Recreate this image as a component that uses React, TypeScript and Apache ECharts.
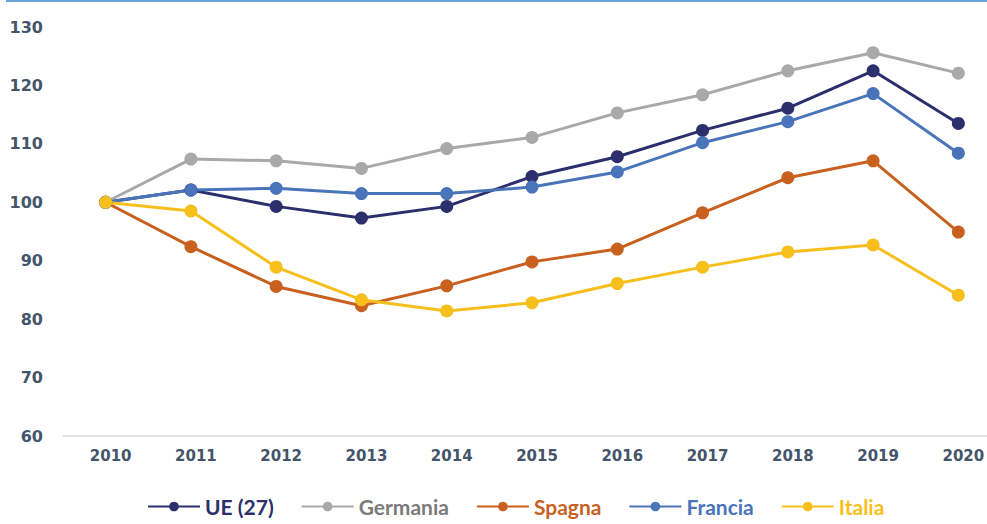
import React, { useEffect, useRef } from "react";
import * as echarts from "echarts";

const years = ["2010", "2011", "2012", "2013", "2014", "2015", "2016", "2017", "2018", "2019", "2020"];
const ue27 = [100, 102.1, 99.3, 97.3, 99.3, 104.4, 107.8, 112.3, 116.1, 122.5, 113.5];
const germania = [100, 107.4, 107.1, 105.8, 109.2, 111.1, 115.3, 118.4, 122.5, 125.6, 122.1];
const spagna = [100, 92.4, 85.6, 82.3, 85.7, 89.8, 92.0, 98.2, 104.2, 107.1, 94.9];
const francia = [100, 102.1, 102.4, 101.5, 101.5, 102.6, 105.2, 110.2, 113.8, 118.6, 108.4];
const italia = [100, 98.5, 88.9, 83.3, 81.4, 82.8, 86.1, 88.9, 91.5, 92.7, 84.1];

const seriesNames = ["UE (27)", "Germania", "Spagna", "Francia", "Italia"];
const seriesColors = ["#2b2f6b", "#a9a9a9", "#c8611f", "#4a74ba", "#f7bf1c"];
const legendTextColors = ["#2b2f6b", "#7a7a7a", "#c8611f", "#4a74ba", "#f7bf1c"];
const seriesData = [ue27, germania, spagna, francia, italia];

const AXFONT = "'DejaVu Sans', sans-serif";
const LGFONT = "Lato, Roboto, sans-serif";

export default function App() {
  const ref = useRef<HTMLDivElement>(null);
  useEffect(() => {
    document.body.style.margin = "0";
    if (!ref.current) return;
    const chart = echarts.init(ref.current, undefined, { renderer: "svg" });
    chart.setOption({
      animation: false,
      backgroundColor: "#ffffff",
      graphic: [
        {
          type: "rect",
          left: 6,
          top: 0,
          shape: { width: 981, height: 2 },
          style: { fill: "#6aa4dc" },
        },
      ],
      grid: { left: 63, top: 27, width: 938, height: 409, outerBoundsMode: "none", containLabel: false },
      xAxis: {
        type: "category",
        data: years,
        boundaryGap: true,
        axisLine: { lineStyle: { color: "#d9d9d9", width: 1.5 } },
        axisTick: { show: false },
        axisLabel: {
          color: "#44546a",
          fontFamily: AXFONT,
          fontWeight: "bold",
          fontSize: 15,
          margin: 12,
          padding: [0, 0, 0, 10],
        },
      },
      yAxis: {
        type: "value",
        min: 60,
        max: 130,
        interval: 10,
        axisLine: { show: false },
        axisTick: { show: false },
        splitLine: { show: false },
        axisLabel: {
          color: "#44546a",
          fontFamily: AXFONT,
          fontWeight: "bold",
          fontSize: 16,
          margin: 20,
        },
      },
      legend: {
        bottom: 2,
        left: 142,
        itemWidth: 52,
        itemHeight: 12,
        itemGap: 27,
        textStyle: { fontFamily: LGFONT, fontSize: 21, fontWeight: "bold" },
        data: seriesNames.map((n, i) => ({ name: n, textStyle: { color: legendTextColors[i] } })),
      },
      series: seriesNames.map((n, i) => ({
        name: n,
        type: "line",
        data: seriesData[i],
        symbol: "circle",
        symbolSize: 13,
        color: seriesColors[i],
        lineStyle: { width: 3, color: seriesColors[i] },
        itemStyle: { color: seriesColors[i] },
      })),
    });
    return () => chart.dispose();
  }, []);
  return <div ref={ref} style={{ width: 987, height: 524 }} />;
}
